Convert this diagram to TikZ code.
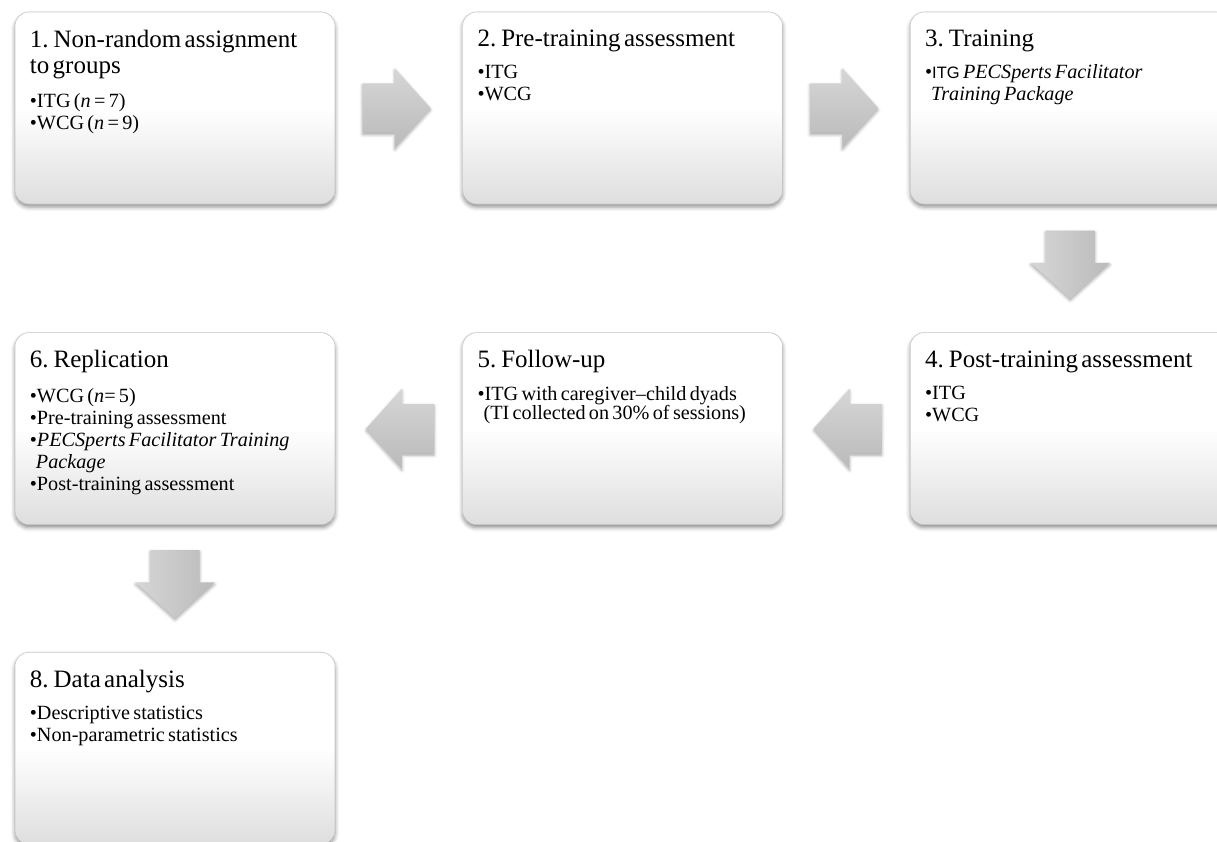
\documentclass[tikz,border=0pt]{standalone}
\usepackage{fontspec}
\setmainfont{Liberation Serif}
\newfontfamily\arialfont{Liberation Sans}
\usetikzlibrary{positioning,calc,shapes.arrows,shadows.blur}

\newcommand\ttlfont{\fontsize{25}{26}\selectfont}
\newcommand\bulfont{\fontsize{20.2}{22}\selectfont}
\newcommand\bi{\textbullet}
\newcommand\bx{\hspace*{0.3em}}

\tikzset{
  stage/.style={draw=black!22, line width=0.6pt, rounded corners=14pt,
    minimum width=320pt, minimum height=192pt, inner sep=0pt,
    top color=white, bottom color=black!13, middle color=white,
    blur shadow={shadow xshift=0pt, shadow yshift=-3pt, shadow blur radius=4pt, shadow opacity=45}},
  stagetext/.style={anchor=north west, inner sep=0pt, text width=305pt, align=left},
  flow/.style={single arrow, single arrow head extend=15pt, single arrow head indent=0pt,
    single arrow tip angle=96, minimum height=68pt, inner xsep=0pt, inner ysep=24.5pt, draw=none,
    anchor=tail, top color=black!16, bottom color=black!27,
    blur shadow={shadow xshift=0pt, shadow yshift=-2pt, shadow blur radius=3pt, shadow opacity=35}},
  flowdown/.style={flow, rotate=-90, left color=black!16, right color=black!27}
}

\begin{document}
\begin{tikzpicture}[x=1pt,y=1pt]
	\useasboundingbox (0,0) rectangle (1217,-841);
	% stages
	\node[stage] (b1) at (175,-108) {};
	\node[stage, right=127pt of b1] (b2) {};
	\node[stage, right=127pt of b2] (b3) {};
	\node[stage, below=128pt of b3] (b4) {};
	\node[stage, left=127pt of b4] (b5) {};
	\node[stage, left=127pt of b5] (b6) {};
	\node[stage, below=127pt of b6] (b8) {};
	% block arrows
	\node[flow] (a12) at ($(b1.east)+(27,0)$) {};
	\node[flow] (a23) at ($(b2.east)+(27,0)$) {};
	\node[flowdown] (a34) at ($(b3.south)+(0,-26)$) {};
	\node[flow, shape border rotate=180] (a45) at ($(b4.west)+(-28,0)$) {};
	\node[flow, shape border rotate=180] (a56) at ($(b5.west)+(-28,0)$) {};
	\node[flowdown] (a68) at ($(b6.south)+(0,-25)$) {};
	% texts
	\node[stagetext] (t1) at ($(b1.north west)+(15,-18)$) {{\ttlfont 1. Non-random assignment\\to groups\par}\vspace{12pt}
		{\bulfont \bi ITG (\textit{n} = 7)\\\bi WCG (\textit{n} = 9)\par}};
	\node[stagetext] (t2) at ($(b2.north west)+(15,-18)$) {{\ttlfont 2. Pre-training assessment\par}\vspace{10pt}
		{\bulfont \bi ITG\\\bi WCG\par}};
	\node[stagetext] (t3) at ($(b3.north west)+(15,-18)$) {{\ttlfont 3. Training\par}\vspace{10pt}
		{\bulfont \bi{\arialfont\fontsize{16.5}{22}\selectfont ITG} \textit{PECSperts Facilitator}\\\bx\textit{Training Package}\par}};
	\node[stagetext] (t4) at ($(b4.north west)+(15,-18)$) {{\ttlfont 4. Post-training assessment\par}\vspace{10pt}
		{\bulfont \bi ITG\\\bi WCG\par}};
	\node[stagetext] (t5) at ($(b5.north west)+(15,-18)$) {{\ttlfont 5. Follow-up\par}\vspace{12pt}
		{\fontsize{20.2}{18.5}\selectfont \bi ITG with caregiver–child dyads\\\bx(TI collected on 30\% of sessions)\par}};
	\node[stagetext] (t6) at ($(b6.north west)+(15,-18)$) {{\ttlfont 6. Replication\par}\vspace{13pt}
		{\bulfont \bi WCG (\textit{n}= 5)\\\bi Pre-training assessment\\\bi\textit{PECSperts Facilitator Training}\\\bx\textit{Package}\\\bi Post-training assessment\par}};
	\node[stagetext] (t8) at ($(b8.north west)+(15,-18)$) {{\ttlfont 8. Data analysis\par}\vspace{10pt}
		{\bulfont \bi Descriptive statistics\\\bi Non-parametric statistics\par}};
\end{tikzpicture}
\end{document}
